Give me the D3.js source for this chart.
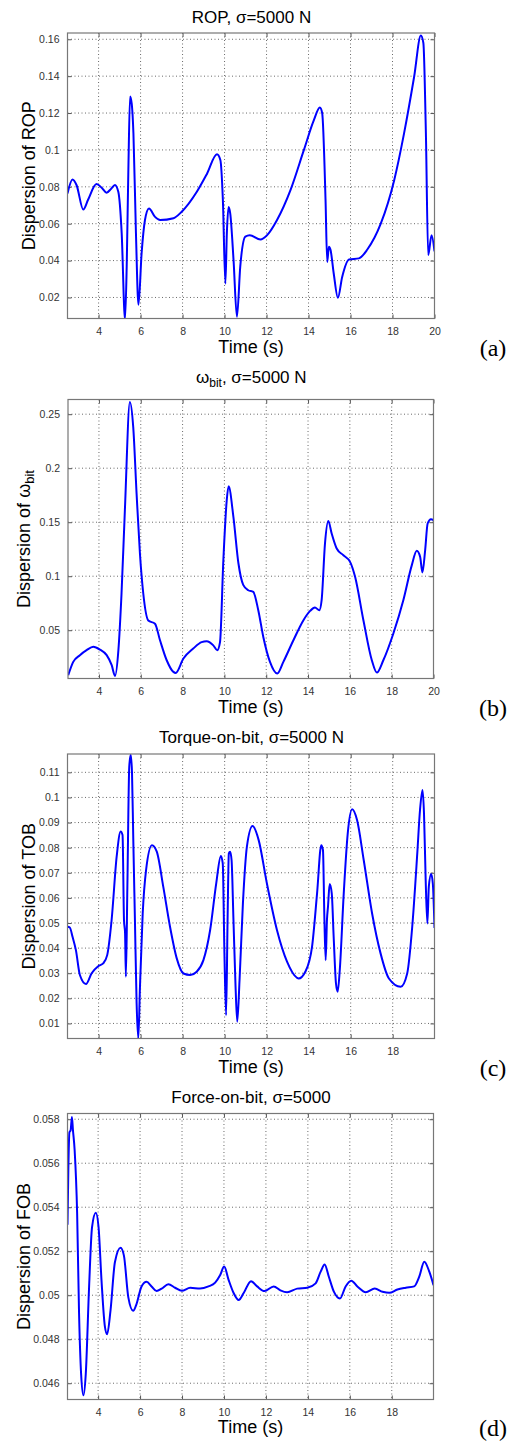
<!DOCTYPE html>
<html>
<head>
<meta charset="utf-8">
<script src="https://cdn.jsdelivr.net/npm/d3@7"></script>
<style>
html,body{margin:0;padding:0;background:#fff;}
svg{display:block;}
</style>
</head>
<body>
<svg id="chart" width="519" height="1445"></svg>
<script>
// ---------- DATA ----------
const ropTime = [2.52,2.76,2.95,3.27,3.5,3.9,4.15,4.38,4.6,4.78,4.94,5.1,5.26,5.34,5.42,5.5,5.58,5.66,5.78,5.9,6.05,6.21,6.4,6.69,6.93,7.57,7.96,8.68,9.16,9.64,9.8,9.92,10.04,10.11,10.19,10.27,10.43,10.59,10.75,10.99,11.2,11.71,12.03,12.5,13.14,13.78,14.25,14.54,14.65,14.81,14.89,14.97,15.05,15.2,15.4,15.6,15.93,16.4,16.8,17.44,18.08,18.55,19.03,19.35,19.47,19.59,19.7,19.86,20.0];
const ropValue = [0.0764,0.0840,0.0810,0.0677,0.0730,0.0815,0.0795,0.0768,0.0790,0.0810,0.0773,0.0550,0.0080,0.0370,0.0900,0.1290,0.1250,0.1090,0.0550,0.0160,0.0440,0.0620,0.0683,0.0637,0.0620,0.0630,0.0665,0.0773,0.0870,0.0976,0.0945,0.0730,0.0275,0.0550,0.0690,0.0656,0.0400,0.0095,0.0370,0.0530,0.0538,0.0514,0.0538,0.0620,0.0782,0.1000,0.1160,0.1230,0.1200,0.0730,0.0393,0.0475,0.0457,0.0330,0.0198,0.0310,0.0406,0.0412,0.0460,0.0600,0.0836,0.1090,0.1397,0.1620,0.1580,0.1090,0.0430,0.0538,0.0450];

const omegaTime = [2.53,2.77,3.09,3.41,3.73,4.05,4.37,4.61,4.77,4.93,5.08,5.24,5.48,5.64,5.8,5.96,6.12,6.36,6.68,6.92,7.24,7.56,7.67,8.04,8.51,8.91,9.15,9.47,9.66,9.79,9.95,10.11,10.2,10.43,10.67,10.9,11.14,11.38,11.62,11.86,12.18,12.53,12.82,13.3,13.78,14.1,14.33,14.54,14.65,14.81,14.97,15.13,15.37,15.69,16.01,16.25,16.65,17.05,17.29,17.6,18.08,18.56,18.96,19.2,19.36,19.47,19.6,19.72,19.88,20.0];
const omegaValue = [0.0083,0.0207,0.0269,0.0315,0.0346,0.0320,0.0269,0.0176,0.0077,0.0315,0.0840,0.1610,0.2614,0.2380,0.1765,0.1210,0.0840,0.0590,0.0560,0.0407,0.0222,0.0114,0.0105,0.0238,0.0330,0.0390,0.0398,0.0360,0.0315,0.0390,0.1148,0.1700,0.1833,0.1550,0.1120,0.0920,0.0870,0.0855,0.0685,0.0438,0.0207,0.0099,0.0207,0.0407,0.0593,0.0679,0.0710,0.0685,0.0778,0.1302,0.1510,0.1395,0.1256,0.1194,0.1133,0.0994,0.0590,0.0222,0.0108,0.0222,0.0470,0.0780,0.1100,0.1235,0.1180,0.1034,0.1240,0.1488,0.1528,0.1519];

const tobTime = [2.52,2.63,2.76,2.92,3.11,3.4,3.67,3.98,4.22,4.41,4.62,4.86,5.05,5.14,5.21,5.26,5.3,5.37,5.46,5.53,5.59,5.65,5.73,5.81,5.89,5.97,6.1,6.26,6.54,6.77,7.08,7.4,7.72,8.04,8.36,8.67,8.99,9.31,9.6,9.82,9.91,9.99,10.07,10.14,10.2,10.26,10.33,10.42,10.52,10.6,10.71,10.87,11.06,11.33,11.62,12.01,12.49,12.97,13.44,13.52,13.84,14.16,14.4,14.6,14.68,14.75,14.81,14.87,14.92,15.0,15.1,15.19,15.3,15.38,15.48,15.67,15.86,16.07,16.3,16.62,17.02,17.42,17.82,18.38,18.69,18.93,19.17,19.3,19.42,19.49,19.57,19.65,19.72,19.83,19.91,19.99];
const tobValue = [0.0485,0.0482,0.0445,0.0392,0.0293,0.0257,0.0300,0.0328,0.0339,0.0372,0.0512,0.0764,0.0864,0.0850,0.0510,0.0460,0.0286,0.0645,0.1123,0.1170,0.1100,0.0840,0.0510,0.0180,0.0040,0.0246,0.0538,0.0711,0.0810,0.0784,0.0644,0.0485,0.0359,0.0299,0.0293,0.0306,0.0352,0.0472,0.0658,0.0767,0.0737,0.0379,0.0133,0.0512,0.0777,0.0784,0.0751,0.0512,0.0246,0.0107,0.0273,0.0578,0.0804,0.0886,0.0830,0.0658,0.0472,0.0346,0.0282,0.0279,0.0306,0.0405,0.0618,0.0810,0.0791,0.0512,0.0352,0.0512,0.0565,0.0655,0.0617,0.0445,0.0259,0.0226,0.0312,0.0618,0.0857,0.0953,0.0911,0.0751,0.0538,0.0380,0.0279,0.0246,0.0299,0.0485,0.0777,0.0950,0.1030,0.0937,0.0671,0.0498,0.0645,0.0695,0.0658,0.0480];

const fobTime = [2.54,2.58,2.63,2.69,2.75,2.8,2.88,3.0,3.09,3.19,3.3,3.41,3.57,3.71,3.89,4.02,4.16,4.32,4.43,4.59,4.8,5.07,5.23,5.44,5.67,5.83,6.07,6.31,6.55,6.79,7.03,7.35,7.67,7.99,8.39,8.86,9.26,9.58,9.82,10.01,10.22,10.46,10.7,10.94,11.29,11.58,11.93,12.37,12.69,13.01,13.49,13.97,14.37,14.61,14.8,15.0,15.24,15.53,15.8,16.07,16.36,16.76,17.19,17.56,17.88,18.27,18.67,19.07,19.31,19.55,19.79,19.99];
const fobValue = [0.0532,0.0557,0.0574,0.0575,0.0581,0.0575,0.0566,0.0537,0.0492,0.0464,0.04545,0.0464,0.0504,0.0531,0.05375,0.0531,0.0507,0.0486,0.04823,0.0493,0.0515,0.05216,0.0518,0.0499,0.04929,0.0496,0.0504,0.05061,0.0504,0.05019,0.0503,0.0505,0.05034,0.0502,0.05034,0.0503,0.0504,0.05057,0.05092,0.0513,0.0507,0.0501,0.04978,0.0501,0.05064,0.0504,0.05019,0.0504,0.05022,0.05013,0.0503,0.05034,0.05054,0.05107,0.0514,0.05084,0.05016,0.04985,0.0504,0.05066,0.0504,0.05014,0.0503,0.05016,0.05011,0.05026,0.05034,0.0504,0.05084,0.05152,0.05107,0.05046];

const xTicksA = [4,6,8,10,12,14,16,18,20];
const xTicksC = [4,6,8,10,12,14,16,18];
const yTicksRop = [0.02,0.04,0.06,0.08,0.1,0.12,0.14,0.16];
const yTicksOmega = [0.05,0.1,0.15,0.2,0.25];
const yTicksTob = [0.01,0.02,0.03,0.04,0.05,0.06,0.07,0.08,0.09,0.1,0.11];
const yTicksFob = [0.046,0.048,0.05,0.052,0.054,0.056,0.058];

// ---------- LAYOUT ----------
const panels = [
  {id:"a", t:ropTime, v:ropValue, xd:[2.52,20], yd:[0.0086,0.1634], xt:xTicksA, yt:yTicksRop,
   box:{l:67.5,r:434.5,t:33,b:318.5}, title:[{s:"ROP, σ=5000 N"}], ylab:[{s:"Dispersion of ROP"}], ylx:35, tag:"(a)", top:0},
  {id:"b", t:omegaTime, v:omegaValue, xd:[2.52,20], yd:[0.0053,0.2636], xt:xTicksA, yt:yTicksOmega,
   box:{l:68,r:433.5,t:399.5,b:678.5}, title:[{s:"ω"},{s:"bit",sub:true},{s:", σ=5000 N"}], ylab:[{s:"Dispersion of ω"},{s:"bit",sub:true}], ylx:29.5, tag:"(b)", top:360},
  {id:"c", t:tobTime, v:tobValue, xd:[2.52,19.99], yd:[0.004,0.1173], xt:xTicksC, yt:yTicksTob,
   box:{l:67.5,r:434.5,t:754,b:1038.5}, title:[{s:"Torque-on-bit, σ=5000 N"}], ylab:[{s:"Dispersion of TOB"}], ylx:35, tag:"(c)", top:720},
  {id:"d", t:fobTime, v:fobValue, xd:[2.54,19.99], yd:[0.04526,0.05826], xt:xTicksC, yt:yTicksFob,
   box:{l:67.5,r:433.5,t:1113.5,b:1399.5}, title:[{s:"Force-on-bit, σ=5000"}], ylab:[{s:"Dispersion of FOB"}], ylx:29.5, tag:"(d)", top:1080}
];

const svg = d3.select("#chart");
const sans = "Arial, 'Liberation Sans', Helvetica, sans-serif";
const serif = "'Times New Roman', 'Liberation Serif', serif";
const fmt = v => String(+v.toFixed(4));

function richText(sel, parts, subSize) {
  parts.forEach(p => {
    const ts = sel.append("tspan").text(p.s);
    if (p.sub) ts.attr("baseline-shift", "-33%").attr("font-size", subSize);
  });
}

panels.forEach(p => {
  const B = p.box;
  const x = d3.scaleLinear().domain(p.xd).range([B.l, B.r]);
  const y = d3.scaleLinear().domain(p.yd).range([B.b, B.t]);
  const g = svg.append("g");

  // grid
  g.append("g").selectAll("line").data(p.xt).join("line")
    .attr("x1", d => x(d)).attr("x2", d => x(d)).attr("y1", B.t).attr("y2", B.b)
    .attr("stroke", "#444").attr("stroke-width", 0.8).attr("stroke-dasharray", "1,2.5");
  g.append("g").selectAll("line").data(p.yt).join("line")
    .attr("y1", d => y(d)).attr("y2", d => y(d)).attr("x1", B.l).attr("x2", B.r)
    .attr("stroke", "#444").attr("stroke-width", 0.8).attr("stroke-dasharray", "1,2.5");

  // axes with inward ticks
  const ax = g.append("g").attr("transform", `translate(0,${B.b})`)
    .call(d3.axisBottom(x).tickValues(p.xt).tickSize(-4).tickPadding(9).tickFormat(fmt));
  const ay = g.append("g").attr("transform", `translate(${B.l},0)`)
    .call(d3.axisLeft(y).tickValues(p.yt).tickSize(-4).tickPadding(8).tickFormat(fmt));
  const axT = g.append("g").attr("transform", `translate(0,${B.t})`)
    .call(d3.axisTop(x).tickValues(p.xt).tickSize(-4).tickFormat(""));
  const ayR = g.append("g").attr("transform", `translate(${B.r},0)`)
    .call(d3.axisRight(y).tickValues(p.yt).tickSize(-4).tickFormat(""));
  [ax, ay, axT, ayR].forEach(a => {
    a.select(".domain").remove();
    a.selectAll(".tick line").attr("stroke", "#555");
    a.selectAll("text").attr("font-family", sans).attr("font-size", 10.5).attr("fill", "#333");
  });

  // clip & line
  const cid = "clip-" + p.id;
  svg.append("clipPath").attr("id", cid).append("rect")
    .attr("x", B.l).attr("y", B.t).attr("width", B.r - B.l).attr("height", B.b - B.t);
  const pts = p.t.map((t, i) => [t, p.v[i]]);
  g.append("path").datum(pts)
    .attr("clip-path", `url(#${cid})`)
    .attr("fill", "none").attr("stroke", "#0000ff").attr("stroke-width", 2)
    .attr("stroke-linejoin", "round")
    .attr("d", d3.line().x(d => x(d[0])).y(d => y(d[1])).curve(d3.curveMonotoneX));

  // frame
  g.append("rect").attr("x", B.l).attr("y", B.t).attr("width", B.r - B.l).attr("height", B.b - B.t)
    .attr("fill", "none").attr("stroke", "#777").attr("stroke-width", 1.2);

  // title
  const title = g.append("text").attr("x", (B.l + B.r) / 2 + 0.5).attr("y", p.top + 22.5)
    .attr("text-anchor", "middle").attr("font-family", sans).attr("font-size", 17).attr("fill", "#000");
  richText(title, p.title, 12);

  // x label
  g.append("text").attr("x", (B.l + B.r) / 2).attr("y", p.top + 352.5)
    .attr("text-anchor", "middle").attr("font-family", sans).attr("font-size", 18).attr("fill", "#000")
    .text("Time (s)");

  // y label
  const yl = g.append("text")
    .attr("transform", `translate(${p.ylx},${(B.t + B.b) / 2}) rotate(-90)`)
    .attr("text-anchor", "middle").attr("font-family", sans).attr("font-size", 18).attr("fill", "#000");
  richText(yl, p.ylab, 13);

  // panel tag
  g.append("text").attr("x", 493).attr("y", p.top + 356)
    .attr("text-anchor", "middle").attr("font-family", serif).attr("font-size", 24).attr("fill", "#000")
    .text(p.tag);
});
</script>
</body>
</html>
